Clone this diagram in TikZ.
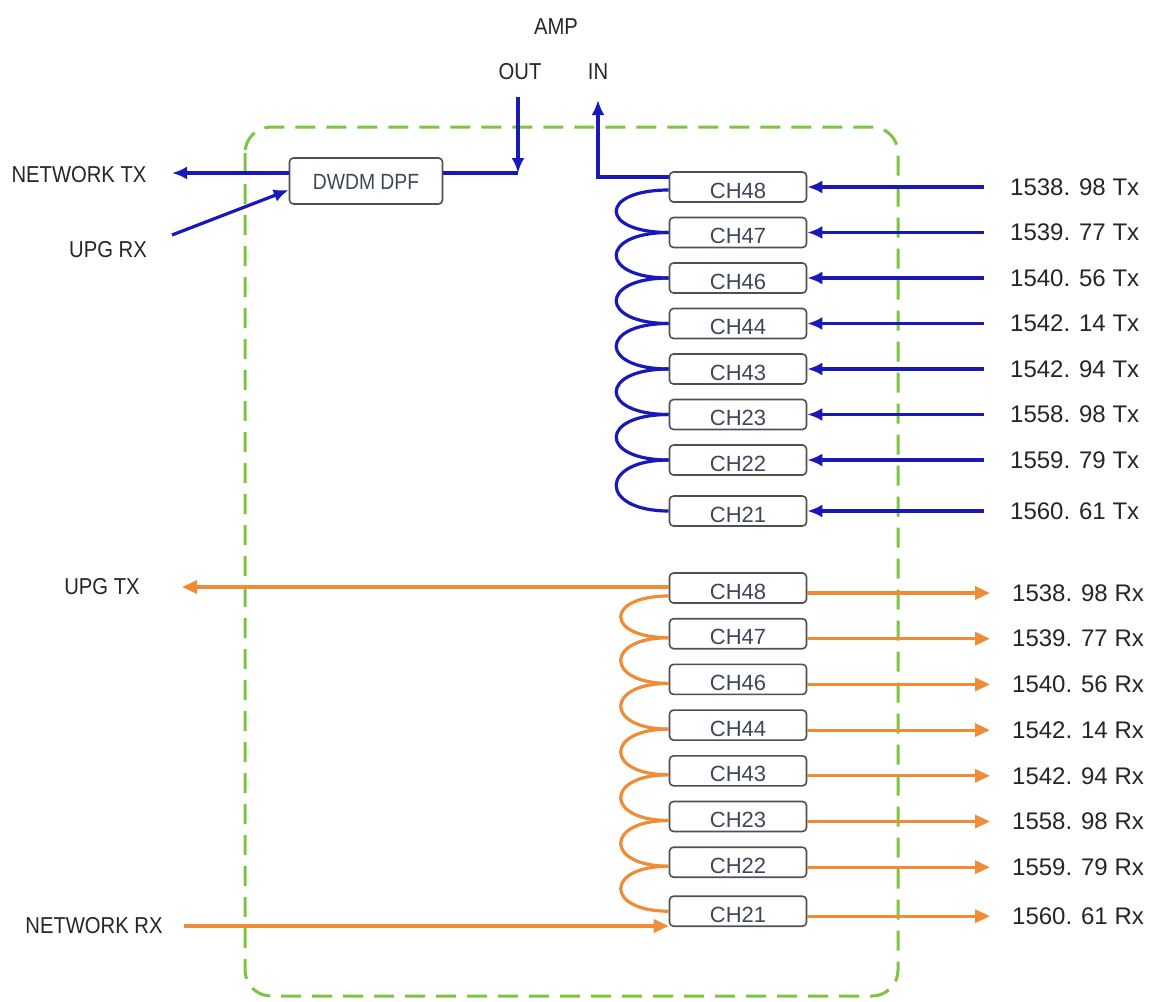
\documentclass[tikz,border=0pt]{standalone}
\usepackage{fontspec}
\setmainfont{Liberation Sans}
\newfontfamily\labelfont[FakeStretch=0.88]{Liberation Sans}
\usetikzlibrary{arrows.meta, positioning}

\definecolor{txblue}{RGB}{25,25,185}
\definecolor{rxorange}{RGB}{238,140,56}
\definecolor{shelfgreen}{RGB}{126,196,64}
\definecolor{boxgray}{RGB}{80,80,80}
\definecolor{chtext}{RGB}{60,72,88}

\begin{document}
\begin{tikzpicture}[
		x=1pt, y=-1pt,
		chbox/.style={
			rectangle,
			draw=boxgray,
			fill=white,
			line width=1.6pt,
			rounded corners=4pt,
			minimum width=137pt,
			minimum height=30pt,
			inner sep=0pt,
			text=chtext,
			text height=22pt,
			text depth=0pt,
			font=\fontsize{22}{22}\selectfont
		},
		dpfbox/.style={
			chbox,
			minimum width=153pt,
			minimum height=46pt,
			text height=17pt,
			font=\labelfont\fontsize{22}{22}\selectfont
		},
		sidelabel/.style={
			inner sep=0pt,
			text=black!85,
			font=\labelfont\fontsize{23}{23}\selectfont
		},
		wavelabel/.style={
			anchor=west,
			inner sep=0pt,
			text=black!85,
			font=\fontsize{24}{24}\selectfont
		},
		txline/.style={draw=txblue, line width=3.2pt},
		txarrow/.style={txline, -{Latex[length=15pt, width=13pt]}},
		rxline/.style={draw=rxorange, line width=3.2pt},
		rxarrow/.style={rxline, -{Triangle[length=15pt, width=13pt]}}
		]
		
		\useasboundingbox[fill=white] (0,0) rectangle (1155,1001);
		
		% Shelf outline
		\draw[shelfgreen, line width=3pt, dash pattern=on 20pt off 11pt, rounded corners=26pt] (245,127) rectangle (898,996);
		
		% Amplifier ports
		\node (amp) [sidelabel] at (556,27) {AMP};
		\node (out) [sidelabel] at (520,72) {OUT};
		\node (in) [sidelabel] at (598,72) {IN};
		\coordinate (outtop) at (518,97);
		\coordinate (outjoin) at (518,173);
		\coordinate (intop) at (598,100);
		
		% Band filter and network side
		\node (dpf) [dpfbox] at (366,181) {DWDM DPF};
		\node (nettx) [sidelabel] at (79,175) {NETWORK TX};
		\node (upgrx) [sidelabel] at (108,250) {UPG RX};
		\coordinate (nettxend) at (172,173);
		\coordinate (upgrxstart) at (172,235);
		
		% Wavelength label columns
		\coordinate (txcol) at (1010,0);
		\coordinate (rxcol) at (1012,0);
		
		% Transmit channels
		\node (t48) [chbox] at (738,187) {CH48};
		\node (t47) [chbox, below=13.9pt of t48] {CH47};
		\node (t46) [chbox, below=13.9pt of t47] {CH46};
		\node (t44) [chbox, below=13.9pt of t46] {CH44};
		\node (t43) [chbox, below=13.9pt of t44] {CH43};
		\node (t23) [chbox, below=13.9pt of t43] {CH23};
		\node (t22) [chbox, below=13.9pt of t23] {CH22};
		\node (t21) [chbox, below=19.4pt of t22] {CH21};
		
		\node (w48t) [wavelabel] at (t48 -| txcol) {1538. 98 Tx};
		\node (w47t) [wavelabel] at (t47 -| txcol) {1539. 77 Tx};
		\node (w46t) [wavelabel] at (t46 -| txcol) {1540. 56 Tx};
		\node (w44t) [wavelabel] at (t44 -| txcol) {1542. 14 Tx};
		\node (w43t) [wavelabel] at (t43 -| txcol) {1542. 94 Tx};
		\node (w23t) [wavelabel] at (t23 -| txcol) {1558. 98 Tx};
		\node (w22t) [wavelabel] at (t22 -| txcol) {1559. 79 Tx};
		\node (w21t) [wavelabel] at (t21 -| txcol) {1560. 61 Tx};
		
		% Receive channels
		\node (r48) [chbox] at (738,588) {CH48};
		\node (r47) [chbox, below=14.1pt of r48] {CH47};
		\node (r46) [chbox, below=14.1pt of r47] {CH46};
		\node (r44) [chbox, below=14.1pt of r46] {CH44};
		\node (r43) [chbox, below=14.1pt of r44] {CH43};
		\node (r23) [chbox, below=14.1pt of r43] {CH23};
		\node (r22) [chbox, below=14.1pt of r23] {CH22};
		\node (r21) [chbox, below=17.4pt of r22] {CH21};
		
		\node (w48r) [wavelabel, yshift=-5pt] at (r48 -| rxcol) {1538. 98 Rx};
		\node (w47r) [wavelabel, yshift=-5pt] at (r47 -| rxcol) {1539. 77 Rx};
		\node (w46r) [wavelabel, yshift=-5pt] at (r46 -| rxcol) {1540. 56 Rx};
		\node (w44r) [wavelabel, yshift=-5pt] at (r44 -| rxcol) {1542. 14 Rx};
		\node (w43r) [wavelabel, yshift=-5pt] at (r43 -| rxcol) {1542. 94 Rx};
		\node (w23r) [wavelabel, yshift=-5pt] at (r23 -| rxcol) {1558. 98 Rx};
		\node (w22r) [wavelabel, yshift=-5pt] at (r22 -| rxcol) {1559. 79 Rx};
		\node (w21r) [wavelabel, yshift=-5pt] at (r21 -| rxcol) {1560. 61 Rx};
		
		\node (upgtx) [sidelabel] at (102,587) {UPG TX};
		\node (netrx) [sidelabel] at (94,926) {NETWORK RX};
		\coordinate (upgtxend) at (182,587);
		\coordinate (netrxstart) at (184,926);
		
		% Filter and amplifier connections
		\draw [txarrow] ([yshift=8pt]dpf.west) -- (nettxend);
		\draw [txarrow] (upgrxstart) -- ([yshift=-9pt]dpf.west);
		\draw [txline] ([yshift=8pt]dpf.east) -- (outjoin);
		\draw [txarrow] (outtop) -- (outjoin);
		\draw [txarrow] ([yshift=10pt]t48.west) -| (intop);
		
		% Transmit daisy chain
		\draw [txline] ([yshift=-3pt]t48.west) .. controls +(-70,0) and +(-70,0) .. (t47.west);
		\draw [txline] (t47.west) .. controls +(-70,0) and +(-70,0) .. (t46.west);
		\draw [txline] (t46.west) .. controls +(-70,0) and +(-70,0) .. (t44.west);
		\draw [txline] (t44.west) .. controls +(-70,0) and +(-70,0) .. (t43.west);
		\draw [txline] (t43.west) .. controls +(-70,0) and +(-70,0) .. (t23.west);
		\draw [txline] (t23.west) .. controls +(-70,0) and +(-70,0) .. (t22.west);
		\draw [txline] (t22.west) .. controls +(-70,0) and +(-70,0) .. (t21.west);
		
		% Transmit inputs
		\draw [txarrow] ([xshift=-26pt]w48t.west) -- (t48.east);
		\draw [txarrow] ([xshift=-26pt]w47t.west) -- (t47.east);
		\draw [txarrow] ([xshift=-26pt]w46t.west) -- (t46.east);
		\draw [txarrow] ([xshift=-26pt]w44t.west) -- (t44.east);
		\draw [txarrow] ([xshift=-26pt]w43t.west) -- (t43.east);
		\draw [txarrow] ([xshift=-26pt]w23t.west) -- (t23.east);
		\draw [txarrow] ([xshift=-26pt]w22t.west) -- (t22.east);
		\draw [txarrow] ([xshift=-26pt]w21t.west) -- (t21.east);
		
		% Receive daisy chain
		\draw [rxarrow] ([yshift=1pt]r48.west) -- (upgtxend);
		\draw [rxline] ([yshift=-8pt]r48.west) .. controls +(-64,0) and +(-64,0) .. ([yshift=-4pt]r47.west);
		\draw [rxline] ([yshift=-4pt]r47.west) .. controls +(-64,0) and +(-64,0) .. ([yshift=-4pt]r46.west);
		\draw [rxline] ([yshift=-4pt]r46.west) .. controls +(-64,0) and +(-64,0) .. ([yshift=-4pt]r44.west);
		\draw [rxline] ([yshift=-4pt]r44.west) .. controls +(-64,0) and +(-64,0) .. ([yshift=-4pt]r43.west);
		\draw [rxline] ([yshift=-4pt]r43.west) .. controls +(-64,0) and +(-64,0) .. ([yshift=-4pt]r23.west);
		\draw [rxline] ([yshift=-4pt]r23.west) .. controls +(-64,0) and +(-64,0) .. ([yshift=-4pt]r22.west);
		\draw [rxline] ([yshift=-4pt]r22.west) .. controls +(-64,0) and +(-64,0) .. (r21.west);
		\draw [rxarrow] (netrxstart) -- (r21.west |- netrxstart);
		
		% Receive outputs
		\draw [rxarrow] (r48.east |- w48r.west) -- ([xshift=-22pt]w48r.west);
		\draw [rxarrow] (r47.east |- w47r.west) -- ([xshift=-22pt]w47r.west);
		\draw [rxarrow] (r46.east |- w46r.west) -- ([xshift=-22pt]w46r.west);
		\draw [rxarrow] (r44.east |- w44r.west) -- ([xshift=-22pt]w44r.west);
		\draw [rxarrow] (r43.east |- w43r.west) -- ([xshift=-22pt]w43r.west);
		\draw [rxarrow] (r23.east |- w23r.west) -- ([xshift=-22pt]w23r.west);
		\draw [rxarrow] (r22.east |- w22r.west) -- ([xshift=-22pt]w22r.west);
		\draw [rxarrow] (r21.east |- w21r.west) -- ([xshift=-22pt]w21r.west);
		
	\end{tikzpicture}
\end{document}
